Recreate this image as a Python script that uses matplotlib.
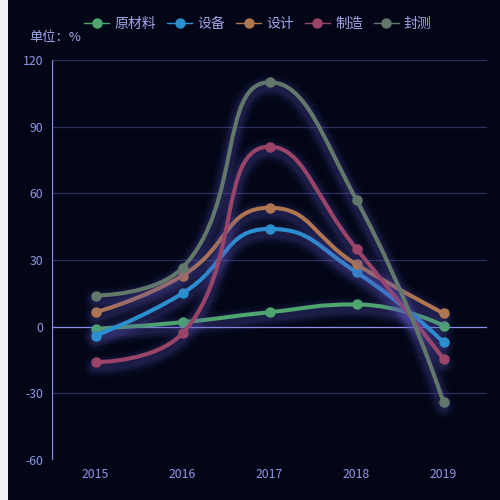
import numpy as np
import matplotlib
matplotlib.use('Agg')
import matplotlib.pyplot as plt
from matplotlib.path import Path
from matplotlib.patches import PathPatch, Rectangle
from matplotlib.lines import Line2D
import matplotlib.patheffects as pe

plt.rcParams['font.family'] = ['Noto Sans CJK SC', 'DejaVu Sans']

# ---- data ----
years = ['2015', '2016', '2017', '2018', '2019']
series_names = ['原材料', '设备', '设计', '制造', '封测']
raw_material = [-1, 2, 6.5, 10, 0.5]
equipment = [-4, 15, 44, 24.5, -7]
design = [6.5, 23, 53.5, 28, 6]
manufacturing = [-16, -3, 81, 35, -14.5]
packaging = [14, 26.5, 110, 57, -34]
y_ticks = [-60, -30, 0, 30, 60, 90, 120]
unit_label = '单位：%'

series_values = [raw_material, equipment, design, manufacturing, packaging]
colors = ['#4ea66e', '#2b90d0', '#b0764f', '#9a4468', '#62786a']

BG = '#020616'
LABEL = '#8e97e6'
GRID = '#2c2f5c'
AXIS = '#8a90e8'

fig = plt.figure(figsize=(5, 5), dpi=100, facecolor=BG)
fig.patches.append(Rectangle((0, 0), 8 / 500, 1, transform=fig.transFigure,
                             facecolor='#eff1f6', edgecolor='none', zorder=0))
ax = fig.add_axes([52 / 500, 40 / 500, 435 / 500, 400 / 500])
ax.set_facecolor(BG)
ax.set_xlim(-0.5, len(years) - 0.5)
ax.set_ylim(y_ticks[0], y_ticks[-1])

for s in ax.spines.values():
    s.set_visible(False)
ax.set_yticks(y_ticks)
ax.set_yticklabels([str(t) for t in y_ticks])
ax.set_xticks(range(len(years)))
ax.set_xticklabels(years)
ax.tick_params(axis='both', length=0, colors=LABEL, labelsize=8.8)
ax.tick_params(axis='y', pad=6.5)
ax.tick_params(axis='x', pad=5.5)
for t in y_ticks:
    if t != 0:
        ax.axhline(t, color=GRID, lw=0.9, zorder=1)
ax.axhline(0, color=AXIS, lw=0.9, zorder=1.5)
ax.axvline(-0.5, color=AXIS, lw=0.9, zorder=1.5)


def echarts_smooth(pts, smooth=0.5):
    verts = [tuple(pts[0])]
    codes = [Path.MOVETO]
    cp0 = np.array(pts[0], dtype=float)
    n = len(pts)
    for i in range(1, n):
        x, y = pts[i]
        px, py = pts[i - 1]
        if i == n - 1:
            cp1 = np.array([x, y])
            ncp0 = np.array([x, y])
        else:
            nx, ny = pts[i + 1]
            vx = nx - px
            vy = ny - py
            d0 = np.hypot(x - px, y - py)
            d1 = np.hypot(nx - x, ny - y)
            r = d1 / (d0 + d1)
            c0x = x + vx * smooth * r
            c0y = y + vy * smooth * r
            c0x = min(c0x, max(nx, x)); c0x = max(c0x, min(nx, x))
            c0y = min(c0y, max(ny, y)); c0y = max(c0y, min(ny, y))
            vx = c0x - x
            vy = c0y - y
            c1x = x - vx * d0 / d1
            c1y = y - vy * d0 / d1
            c1x = min(c1x, max(px, x)); c1x = max(c1x, min(px, x))
            c1y = min(c1y, max(py, y)); c1y = max(c1y, min(py, y))
            vx = x - c1x
            vy = y - c1y
            c0x = x + vx * d1 / d0
            c0y = y + vy * d1 / d0
            cp1 = np.array([c1x, c1y])
            ncp0 = np.array([c0x, c0y])
        verts += [tuple(cp0), tuple(cp1), (x, y)]
        codes += [Path.CURVE4] * 3
        cp0 = ncp0
    return verts, codes


xs = np.arange(len(years))
glow = []
for w, a in [(17, 0.05), (13, 0.07), (10, 0.09), (7, 0.12)]:
    glow.append(pe.Stroke(linewidth=w, foreground='#5e57c0', alpha=a, offset=(0, -3)))
glow.append(pe.Normal())

for k, (name, vals, c) in enumerate(zip(series_names, series_values, colors)):
    pix = ax.transData.transform(np.column_stack([xs, vals]))
    verts, codes = echarts_smooth(pix)
    dverts = ax.transData.inverted().transform(np.array(verts))
    patch = PathPatch(Path(dverts, codes), facecolor='none', edgecolor=c,
                      lw=2.9, zorder=3 + k, capstyle='round', joinstyle='round')
    patch.set_path_effects(glow)
    ax.add_patch(patch)
    ax.plot(xs, vals, 'o', color=c, ms=6.5, mec=c, zorder=3.5 + k)

handles = [Line2D([0], [0], color=c, lw=1.0, marker='o', ms=6.5, mec=c) for c in colors]
fig.legend(handles, series_names, loc='center', bbox_to_anchor=(0.516, 1 - 24 / 500),
           ncol=5, frameon=False, fontsize=10, labelcolor='#a2a9ea',
           handlelength=1.8, handletextpad=0.36, columnspacing=0.8)

fig.text(29 / 500, 1 - 38 / 500, unit_label, color='#a2a9ea', fontsize=9.5,
         ha='left', va='center')

fig.savefig('out.png', dpi=100, facecolor=BG)
